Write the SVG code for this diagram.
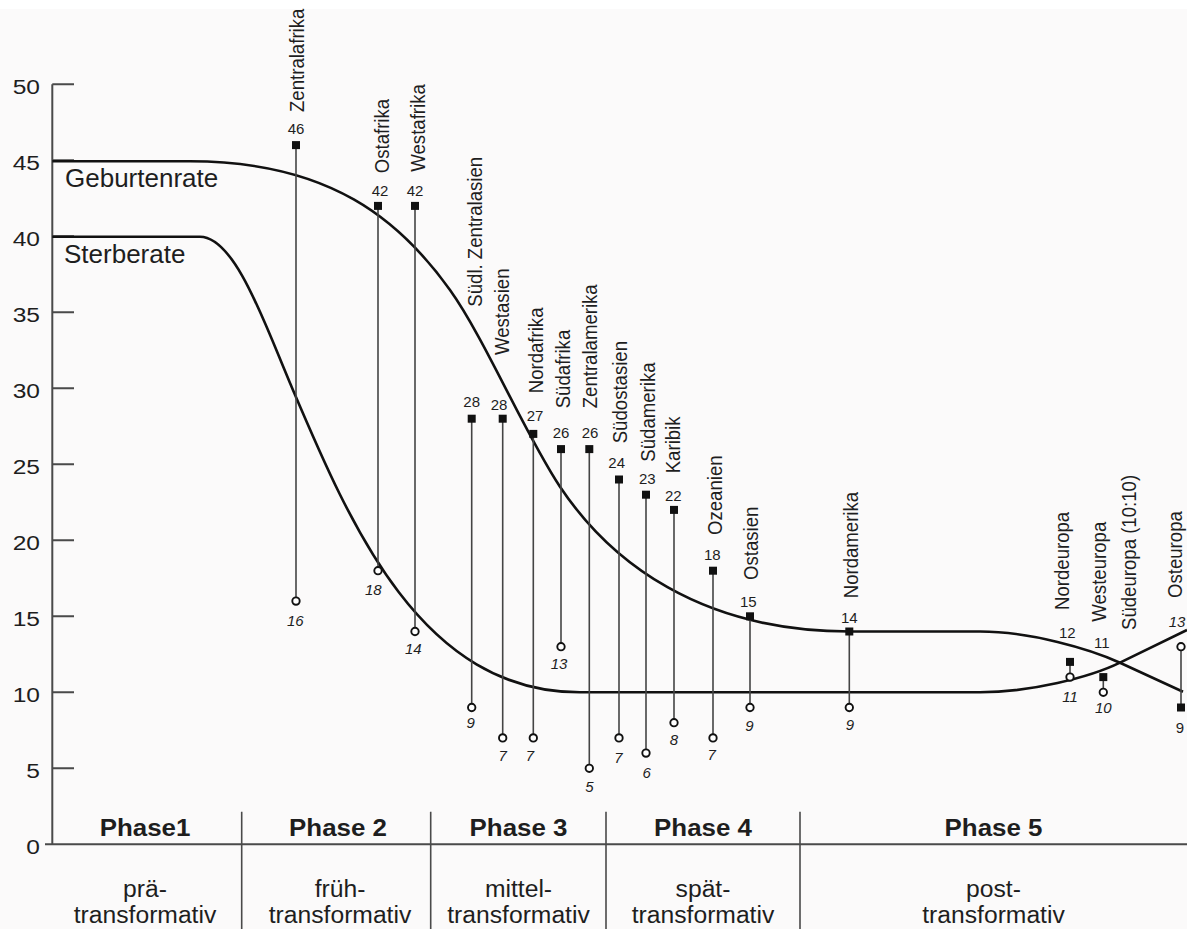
<svg xmlns="http://www.w3.org/2000/svg" width="1187" height="929" viewBox="0 0 1187 929">
<style>
.ax{stroke:#4a4a4a;stroke-width:2;fill:none}
.div{stroke:#4a4a4a;stroke-width:1.6;fill:none}
.curve{stroke:#111;stroke-width:2.6;fill:none}
.stem{stroke:#444;stroke-width:1.6}
.sq{fill:#111}
.ci{fill:#fff;stroke:#111;stroke-width:1.9}
text{font-family:"Liberation Sans",Arial,Helvetica,sans-serif;fill:#1e1e1e}
.name{font-size:18.6px}
.bv{font-size:15px;text-anchor:middle}
.dv{font-size:15px;font-style:italic;text-anchor:middle}
.ytk{font-size:21px;text-anchor:end}
.ph{font-size:24px;font-weight:bold;text-anchor:middle}
.st{font-size:23.5px;text-anchor:middle}
.cl{font-size:26px}
</style>
<rect x="0" y="0" width="1187" height="929" fill="#fbfafa"/>
<rect x="0" y="0" width="1187" height="9" fill="#ffffff"/>

<g id="axes">
  <path class="ax" d="M52.3,84.3 V844.3 M45,844.3 H1187"/>
  <path class="ax" d="M52.3,84.3 H74 M52.3,160.3 H74 M52.3,236.3 H74 M52.3,312.3 H74 M52.3,388.3 H74 M52.3,464.3 H74 M52.3,540.3 H74 M52.3,616.3 H74 M52.3,692.3 H74 M52.3,768.3 H74"/>
  <g transform="translate(40,0) scale(1.17,1)">
    <text class="ytk" x="0" y="93.8">50</text>
    <text class="ytk" x="0" y="169.8">45</text>
    <text class="ytk" x="0" y="245.8">40</text>
    <text class="ytk" x="0" y="321.8">35</text>
    <text class="ytk" x="0" y="397.8">30</text>
    <text class="ytk" x="0" y="473.8">25</text>
    <text class="ytk" x="0" y="549.8">20</text>
    <text class="ytk" x="0" y="625.8">15</text>
    <text class="ytk" x="0" y="701.8">10</text>
    <text class="ytk" x="0" y="777.8">5</text>
    <text class="ytk" x="0" y="853.8">0</text>
  </g>
</g>

<g id="phases">
  <path class="div" d="M241.7,811.7 V929 M430.7,811.7 V929 M606,811.7 V929 M800,811.7 V929"/>
  <text class="ph" transform="translate(145,835.7) scale(1.08,1)">Phase1</text>
  <text class="ph" transform="translate(338,835.7) scale(1.08,1)">Phase 2</text>
  <text class="ph" transform="translate(518.5,835.7) scale(1.08,1)">Phase 3</text>
  <text class="ph" transform="translate(703,835.7) scale(1.08,1)">Phase 4</text>
  <text class="ph" transform="translate(993.5,835.7) scale(1.08,1)">Phase 5</text>
  <text class="st" transform="translate(145,896.7) scale(1.05,1)">prä-</text>
  <text class="st" transform="translate(145,922.7) scale(1.05,1)">transformativ</text>
  <text class="st" transform="translate(340,896.7) scale(1.05,1)">früh-</text>
  <text class="st" transform="translate(340,922.7) scale(1.05,1)">transformativ</text>
  <text class="st" transform="translate(518.5,896.7) scale(1.05,1)">mittel-</text>
  <text class="st" transform="translate(518.5,922.7) scale(1.05,1)">transformativ</text>
  <text class="st" transform="translate(703,896.7) scale(1.05,1)">spät-</text>
  <text class="st" transform="translate(703,922.7) scale(1.05,1)">transformativ</text>
  <text class="st" transform="translate(993.5,896.7) scale(1.05,1)">post-</text>
  <text class="st" transform="translate(993.5,922.7) scale(1.05,1)">transformativ</text>
</g>

<g id="curves">
  <path id="geburtenrate" class="curve" d="M52.3,161.3 H190 C330,161.3 400,220 450,290 C485,339 525,434.2 560,486.7 C610,561.7 700,631.5 850,631.5 H980 C1030,631.5 1090,648.9 1120,662.7 L1183,691.7"/>
  <path id="sterberate" class="curve" d="M52.3,236.7 H200 C235,236.7 265,324.3 290,383 C350,524 420,692.3 580,692.3 H980 C1030,692.3 1090,677.4 1120,662.7 L1187,630"/>
  <text class="cl" x="65" y="187.3">Geburtenrate</text>
  <text class="cl" x="64" y="263.3">Sterberate</text>
</g>

<g id="zentralafrika">
  <line class="stem" x1="296" y1="145.1" x2="296" y2="601.1"/>
  <rect class="sq" x="292" y="141.1" width="8" height="8"/>
  <circle class="ci" cx="296" cy="601.1" r="3.7"/>
  <text class="bv" x="296" y="133.5">46</text>
  <text class="dv" x="295.3" y="626">16</text>
  <text class="name" transform="translate(303.5,112) rotate(-90) scale(1,1.1)">Zentralafrika</text>
</g>
<g id="ostafrika">
  <line class="stem" x1="378" y1="205.9" x2="378" y2="570.7"/>
  <rect class="sq" x="374" y="201.9" width="8" height="8"/>
  <circle class="ci" cx="378" cy="570.7" r="3.7"/>
  <text class="bv" x="380" y="196">42</text>
  <text class="dv" x="373.3" y="595">18</text>
  <text class="name" transform="translate(388.5,173.3) rotate(-90) scale(1,1.1)">Ostafrika</text>
</g>
<g id="westafrika">
  <line class="stem" x1="415" y1="205.9" x2="415" y2="631.5"/>
  <rect class="sq" x="411" y="201.9" width="8" height="8"/>
  <circle class="ci" cx="415" cy="631.5" r="3.7"/>
  <text class="bv" x="415" y="196">42</text>
  <text class="dv" x="413.3" y="654.3">14</text>
  <text class="name" transform="translate(425,171.7) rotate(-90) scale(1,1.1)">Westafrika</text>
</g>
<g id="suedl-zentralasien">
  <line class="stem" x1="471.7" y1="418.7" x2="471.7" y2="707.5"/>
  <rect class="sq" x="467.7" y="414.7" width="8" height="8"/>
  <circle class="ci" cx="471.7" cy="707.5" r="3.7"/>
  <text class="bv" x="471.7" y="406.7">28</text>
  <text class="dv" x="470.7" y="727.7">9</text>
  <text class="name" transform="translate(481.5,306.7) rotate(-90) scale(1,1.1)">Südl. Zentralasien</text>
</g>
<g id="westasien">
  <line class="stem" x1="502.7" y1="418.7" x2="502.7" y2="737.9"/>
  <rect class="sq" x="498.7" y="414.7" width="8" height="8"/>
  <circle class="ci" cx="502.7" cy="737.9" r="3.7"/>
  <text class="bv" x="499" y="410">28</text>
  <text class="dv" x="502.7" y="761">7</text>
  <text class="name" transform="translate(509,355) rotate(-90) scale(1,1.1)">Westasien</text>
</g>
<g id="nordafrika">
  <line class="stem" x1="533.3" y1="433.9" x2="533.3" y2="737.9"/>
  <rect class="sq" x="529.3" y="429.9" width="8" height="8"/>
  <circle class="ci" cx="533.3" cy="737.9" r="3.7"/>
  <text class="bv" x="535" y="421">27</text>
  <text class="dv" x="530" y="761">7</text>
  <text class="name" transform="translate(543,393.3) rotate(-90) scale(1,1.1)">Nordafrika</text>
</g>
<g id="suedafrika">
  <line class="stem" x1="561" y1="449.1" x2="561" y2="646.7"/>
  <rect class="sq" x="557" y="445.1" width="8" height="8"/>
  <circle class="ci" cx="561" cy="646.7" r="3.7"/>
  <text class="bv" x="561" y="438.3">26</text>
  <text class="dv" x="559" y="669">13</text>
  <text class="name" transform="translate(570,408.3) rotate(-90) scale(1,1.1)">Südafrika</text>
</g>
<g id="zentralamerika">
  <line class="stem" x1="589.3" y1="449.1" x2="589.3" y2="768.3"/>
  <rect class="sq" x="585.3" y="445.1" width="8" height="8"/>
  <circle class="ci" cx="589.3" cy="768.3" r="3.7"/>
  <text class="bv" x="590" y="438.3">26</text>
  <text class="dv" x="589.3" y="792.3">5</text>
  <text class="name" transform="translate(597,408.3) rotate(-90) scale(1,1.1)">Zentralamerika</text>
</g>
<g id="suedostasien">
  <line class="stem" x1="619" y1="479.5" x2="619" y2="737.9"/>
  <rect class="sq" x="615" y="475.5" width="8" height="8"/>
  <circle class="ci" cx="619" cy="737.9" r="3.7"/>
  <text class="bv" x="616.7" y="467.7">24</text>
  <text class="dv" x="618.3" y="763.3">7</text>
  <text class="name" transform="translate(626.5,443.3) rotate(-90) scale(1,1.1)">Südostasien</text>
</g>
<g id="suedamerika">
  <line class="stem" x1="646" y1="494.7" x2="646" y2="753.1"/>
  <rect class="sq" x="642" y="490.7" width="8" height="8"/>
  <circle class="ci" cx="646" cy="753.1" r="3.7"/>
  <text class="bv" x="647.3" y="484.3">23</text>
  <text class="dv" x="646.7" y="777.7">6</text>
  <text class="name" transform="translate(655,461.7) rotate(-90) scale(1,1.1)">Südamerika</text>
</g>
<g id="karibik">
  <line class="stem" x1="674" y1="509.9" x2="674" y2="722.7"/>
  <rect class="sq" x="670" y="505.9" width="8" height="8"/>
  <circle class="ci" cx="674" cy="722.7" r="3.7"/>
  <text class="bv" x="673.3" y="501">22</text>
  <text class="dv" x="674" y="745">8</text>
  <text class="name" transform="translate(680,473.3) rotate(-90) scale(1,1.1)">Karibik</text>
</g>
<g id="ozeanien">
  <line class="stem" x1="713" y1="570.7" x2="713" y2="737.9"/>
  <rect class="sq" x="709" y="566.7" width="8" height="8"/>
  <circle class="ci" cx="713" cy="737.9" r="3.7"/>
  <text class="bv" x="712.3" y="560">18</text>
  <text class="dv" x="711.7" y="760">7</text>
  <text class="name" transform="translate(721.5,535) rotate(-90) scale(1,1.1)">Ozeanien</text>
</g>
<g id="ostasien">
  <line class="stem" x1="750" y1="616.3" x2="750" y2="707.5"/>
  <rect class="sq" x="746" y="612.3" width="8" height="8"/>
  <circle class="ci" cx="750" cy="707.5" r="3.7"/>
  <text class="bv" x="748.3" y="606.7">15</text>
  <text class="dv" x="749.3" y="731">9</text>
  <text class="name" transform="translate(758,580) rotate(-90) scale(1,1.1)">Ostasien</text>
</g>
<g id="nordamerika">
  <line class="stem" x1="849.3" y1="631.5" x2="849.3" y2="707.5"/>
  <rect class="sq" x="845.3" y="627.5" width="8" height="8"/>
  <circle class="ci" cx="849.3" cy="707.5" r="3.7"/>
  <text class="bv" x="849.3" y="622.7">14</text>
  <text class="dv" x="850" y="730">9</text>
  <text class="name" transform="translate(858,598.3) rotate(-90) scale(1,1.1)">Nordamerika</text>
</g>
<g id="nordeuropa">
  <line class="stem" x1="1070" y1="661.9" x2="1070" y2="677.1"/>
  <rect class="sq" x="1066" y="657.9" width="8" height="8"/>
  <circle class="ci" cx="1070" cy="677.1" r="3.7"/>
  <text class="bv" x="1067.3" y="638.3">12</text>
  <text class="dv" x="1070" y="702.3">11</text>
  <text class="name" transform="translate(1069,610) rotate(-90) scale(1,1.1)">Nordeuropa</text>
</g>
<g id="westeuropa">
  <line class="stem" x1="1103.3" y1="677.1" x2="1103.3" y2="692.3"/>
  <rect class="sq" x="1099.3" y="673.1" width="8" height="8"/>
  <circle class="ci" cx="1103.3" cy="692.3" r="3.7"/>
  <text class="bv" x="1101.7" y="648.3">11</text>
  <text class="dv" x="1103.3" y="713.3">10</text>
  <text class="name" transform="translate(1106,621.7) rotate(-90) scale(1,1.1)">Westeuropa</text>
</g>
<g id="suedeuropa">
  <text class="name" transform="translate(1136,630) rotate(-90) scale(1,1.1)">Südeuropa (10:10)</text>
</g>
<g id="osteuropa">
  <line class="stem" x1="1181" y1="646.7" x2="1181" y2="707.5"/>
  <rect class="sq" x="1177" y="703.5" width="8" height="8"/>
  <circle class="ci" cx="1181" cy="646.7" r="3.7"/>
  <text class="bv" x="1180" y="733.3">9</text>
  <text class="dv" x="1177" y="627">13</text>
  <text class="name" transform="translate(1182,598) rotate(-90) scale(1,1.1)">Osteuropa</text>
</g>
</svg>
